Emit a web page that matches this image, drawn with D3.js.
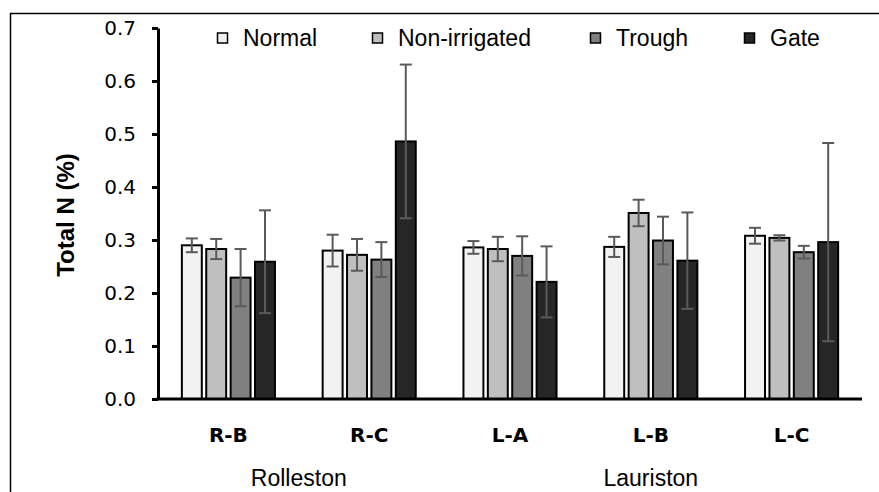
<!DOCTYPE html>
<html>
<head>
<meta charset="utf-8">
<script src="https://cdn.jsdelivr.net/npm/d3@7/dist/d3.min.js"></script>
<style>
  html, body { margin: 0; padding: 0; background: #fff; }
  svg { display: block; }
</style>
</head>
<body>
<svg id="chart" width="879" height="492"></svg>
<script>
// data
sites = ['R-B', 'R-C', 'L-A', 'L-B', 'L-C'];
locations = ['Rolleston', 'Lauriston'];
locationSites = [['R-B', 'R-C'], ['L-A', 'L-B', 'L-C']];
treatments = ['Normal', 'Non-irrigated', 'Trough', 'Gate'];
normalVals = [0.290, 0.280, 0.286, 0.287, 0.308];
nonIrrVals = [0.283, 0.272, 0.283, 0.351, 0.304];
troughVals = [0.229, 0.263, 0.270, 0.299, 0.277];
gateVals   = [0.259, 0.486, 0.221, 0.261, 0.296];
normalErr  = [0.013, 0.030, 0.012, 0.019, 0.015];
nonIrrErr  = [0.019, 0.030, 0.023, 0.025, 0.005];
troughErr  = [0.054, 0.033, 0.037, 0.045, 0.012];
gateErr    = [0.097, 0.145, 0.067, 0.091, 0.187];
yTicks = [0, 0.1, 0.2, 0.3, 0.4, 0.5, 0.6, 0.7];

fills = ['#f2f2f2', '#bfbfbf', '#808080', '#262626'];
values = [normalVals, nonIrrVals, troughVals, gateVals];
errors = [normalErr, nonIrrErr, troughErr, gateErr];

plotLeft = 158; plotRight = 862; plotTop = 28; plotBottom = 399;

svg = d3.select('#chart');

// outer frame (only left and top edges are inside the picture)
svg.append('path')
	.attr('d', 'M10.5,500 V13.5 H890')
	.attr('fill', 'none')
	.attr('stroke', '#000')
	.attr('stroke-width', 1.5);

x0 = d3.scaleBand().domain(sites).range([plotLeft, plotRight]).paddingInner(0.29).paddingOuter(0.145);
x1 = d3.scaleBand().domain(treatments).range([0, x0.bandwidth()]).padding(0.1);
y = d3.scaleLinear().domain([0, 0.7]).range([plotBottom, plotTop]);

// bars
treatments.forEach(function(t, k){
	let g = svg.append('g');
	g.selectAll('rect').data(sites).enter().append('rect')
		.attr('x', (s) => x0(s) + x1(t) + 1)
		.attr('y', (s, i) => y(values[k][i]))
		.attr('width', x1.bandwidth() - 2)
		.attr('height', (s, i) => y(0) - y(values[k][i]))
		.attr('fill', fills[k])
		.attr('stroke', '#000')
		.attr('stroke-width', 2);
});

// error bars
treatments.forEach(function(t, k){
	let g = svg.append('g').attr('stroke', '#5a5a5a').attr('stroke-width', 2);
	sites.forEach(function(s, i){
		let cx = x0(s) + x1(t) + x1.bandwidth()/2;
		let hi = y(values[k][i] + errors[k][i]);
		let lo = y(values[k][i] - errors[k][i]);
		g.append('line').attr('x1', cx).attr('x2', cx).attr('y1', hi).attr('y2', lo);
		g.append('line').attr('x1', cx-6).attr('x2', cx+6).attr('y1', hi).attr('y2', hi);
		g.append('line').attr('x1', cx-6).attr('x2', cx+6).attr('y1', lo).attr('y2', lo);
	});
});

// y axis
yAxis = d3.axisLeft(y).tickValues(yTicks).tickFormat(d3.format('.1f')).tickSizeInner(6).tickSizeOuter(0).tickPadding(16);
ya = svg.append('g').attr('transform', `translate(${plotLeft},0)`).call(yAxis);
ya.select('.domain').attr('stroke', '#000').attr('stroke-width', 3);
ya.selectAll('.tick line').attr('stroke', '#000').attr('stroke-width', 3);
ya.selectAll('.tick text')
	.attr('font-family', '"DejaVu Sans", sans-serif')
	.attr('font-size', 20)
	.attr('fill', '#000');

// x axis line
svg.append('line')
	.attr('x1', plotLeft - 1.5).attr('x2', plotRight)
	.attr('y1', plotBottom).attr('y2', plotBottom)
	.attr('stroke', '#000').attr('stroke-width', 3);

// site labels
svg.selectAll('.site').data(sites).enter().append('text')
	.attr('class', 'site')
	.attr('x', (s) => x0(s) + x0.bandwidth()/2)
	.attr('y', 442)
	.attr('text-anchor', 'middle')
	.attr('font-family', '"DejaVu Sans", sans-serif')
	.attr('font-weight', 'bold')
	.attr('font-size', 20)
	.text((s) => s);

// location labels
svg.selectAll('.loc').data(locations).enter().append('text')
	.attr('class', 'loc')
	.attr('x', function(l, i){
		let ss = locationSites[i];
		return (x0(ss[0]) + x0(ss[ss.length-1]) + x0.bandwidth())/2;
	})
	.attr('y', 486)
	.attr('text-anchor', 'middle')
	.attr('font-family', '"Liberation Sans", Arial, sans-serif')
	.attr('font-size', 23)
	.text((l) => l);

// y title
svg.append('text')
	.attr('transform', 'translate(74,215) rotate(-90)')
	.attr('text-anchor', 'middle')
	.attr('font-family', '"Liberation Sans", Arial, sans-serif')
	.attr('font-weight', 'bold')
	.attr('font-size', 24)
	.text('Total N (%)');

// legend
legendX = [217, 372, 590, 744];
lg = svg.selectAll('.legend').data(treatments).enter().append('g')
	.attr('class', 'legend')
	.attr('transform', (t, k) => `translate(${legendX[k]},38)`);
lg.append('rect')
	.attr('x', 0.5).attr('y', -5)
	.attr('width', 10).attr('height', 10)
	.attr('fill', (t, k) => fills[k])
	.attr('stroke', '#000')
	.attr('stroke-width', 1.5);
lg.append('text')
	.attr('x', 26).attr('y', 8)
	.attr('font-family', '"Liberation Sans", Arial, sans-serif')
	.attr('font-size', 23)
	.text((t) => t);
</script>
</body>
</html>
